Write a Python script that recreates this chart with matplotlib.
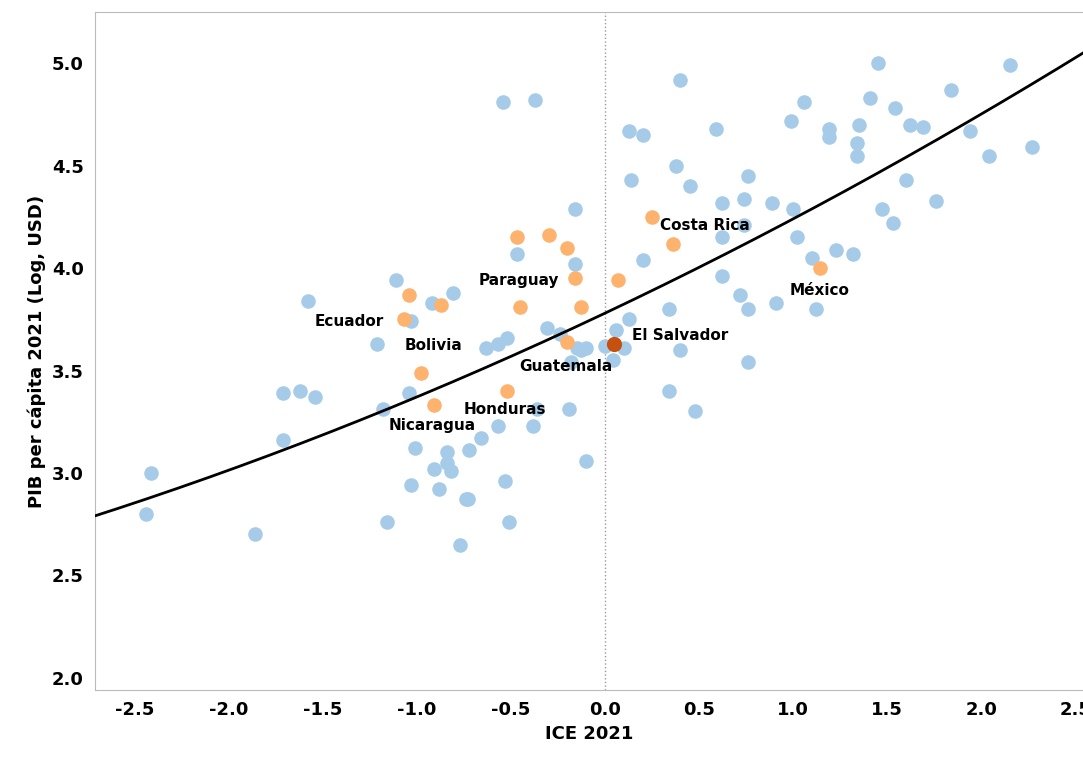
import matplotlib
matplotlib.use("Agg")
import matplotlib.pyplot as plt
import numpy as np

# other countries
blue_x = [-2.44,-2.41,-1.86,-1.71,-1.71,-1.62,-1.54,-1.58,-1.21,-1.18,-1.16,-1.11,-1.04,-1.03,-1.03,-1.01,
          -0.92,-0.91,-0.88,-0.84,-0.84,-0.82,-0.81,-0.74,-0.73,-0.72,-0.77,-0.66,-0.63,-0.57,-0.57,-0.52,
          -0.53,-0.51,-0.54,-0.37,-0.47,-0.38,-0.36,-0.31,-0.24,-0.19,-0.18,-0.15,-0.13,-0.10,-0.16,-0.16,
          -0.10,0.0,0.04,0.06,0.10,0.13,0.13,0.14,0.20,0.20,0.34,0.34,0.38,0.40,0.40,0.45,0.48,0.59,0.62,
          0.62,0.62,0.72,0.74,0.74,0.76,0.76,0.76,0.89,0.91,1.00,0.99,1.02,1.06,1.10,1.12,1.19,1.19,1.23,
          1.32,1.34,1.34,1.35,1.41,1.45,1.47,1.53,1.54,1.60,1.62,1.69,1.76,1.84,1.94,2.04,2.27,2.15]
blue_y = [2.80,3.00,2.70,3.39,3.16,3.40,3.37,3.84,3.63,3.31,2.76,3.94,3.39,3.74,2.94,3.12,
          3.83,3.02,2.92,3.10,3.05,3.01,3.88,2.87,2.87,3.11,2.65,3.17,3.61,3.23,3.63,3.66,
          2.96,2.76,4.81,4.82,4.07,3.23,3.31,3.71,3.68,3.31,3.54,3.61,3.60,3.61,4.02,4.29,
          3.06,3.62,3.55,3.70,3.61,3.75,4.67,4.43,4.65,4.04,3.40,3.80,4.50,4.92,3.60,4.40,3.30,4.68,4.32,
          4.15,3.96,3.87,4.34,4.21,4.45,3.80,3.54,4.32,3.83,4.29,4.72,4.15,4.81,4.05,3.80,4.68,4.64,4.09,
          4.07,4.61,4.55,4.70,4.83,5.00,4.29,4.22,4.78,4.43,4.70,4.69,4.33,4.87,4.67,4.55,4.59,4.99]

# Latin American countries
orange_x = [-1.04,-1.07,-0.87,-0.98,-0.91,-0.47,-0.45,-0.30,-0.20,-0.16,-0.13,-0.20,-0.52,0.07,0.25,0.36,1.14]
orange_y = [3.87,3.75,3.82,3.49,3.33,4.15,3.81,4.16,4.10,3.95,3.81,3.64,3.40,3.94,4.25,4.12,4.00]

sv_x, sv_y = 0.05, 3.63

# trend line coefficients (quadratic fit)
trend = [0.0257, 0.435, 3.78]

labels = ["Costa Rica", "México", "Paraguay", "Ecuador", "Bolivia", "Guatemala", "El Salvador", "Honduras", "Nicaragua"]
label_x = [0.53, 1.14, -0.46, -1.36, -0.91, -0.21, 0.40, -0.53, -0.92]
label_y = [4.21, 3.89, 3.94, 3.74, 3.62, 3.52, 3.67, 3.31, 3.23]

fig = plt.figure(figsize=(10.83, 7.64), dpi=100)
ax = fig.add_axes([0.0877, 0.097, 0.9123, 0.887])

ax.axvline(0, color="#999999", linestyle=":", linewidth=1, zorder=0)
ax.scatter(blue_x, blue_y, s=110, color="#a6cbe8", zorder=2, linewidths=0)
ax.scatter(orange_x, orange_y, s=110, color="#fdb26e", zorder=3, linewidths=0)
ax.scatter([sv_x], [sv_y], s=120, color="#c5500f", zorder=4, linewidths=0)

xx = np.linspace(-2.75, 2.6, 200)
ax.plot(xx, np.polyval(trend, xx), color="black", linewidth=2, zorder=5)

for t, x, y in zip(labels, label_x, label_y):
    ax.text(x, y, t, fontsize=11, fontweight="bold", ha="center", va="center", zorder=6)

ax.set_xlim(-2.71, 2.54)
ax.set_ylim(1.94, 5.25)
ax.set_xticks(np.arange(-2.5, 2.51, 0.5))
ax.set_xticklabels([f"{v:.1f}" for v in np.arange(-2.5, 2.51, 0.5)])
ax.set_yticks(np.arange(2.0, 5.01, 0.5))
ax.tick_params(labelsize=13, length=0, pad=8)
for lab in ax.get_xticklabels() + ax.get_yticklabels():
    lab.set_fontweight("bold")
ax.set_xlabel("ICE 2021", fontsize=13, fontweight="bold")
ax.set_ylabel("PIB per cápita 2021 (Log, USD)", fontsize=13, fontweight="bold")

ax.spines["right"].set_visible(False)
for s in ["top", "left", "bottom"]:
    ax.spines[s].set_color("#bbbbbb")

fig.savefig("out.png", dpi=100)
